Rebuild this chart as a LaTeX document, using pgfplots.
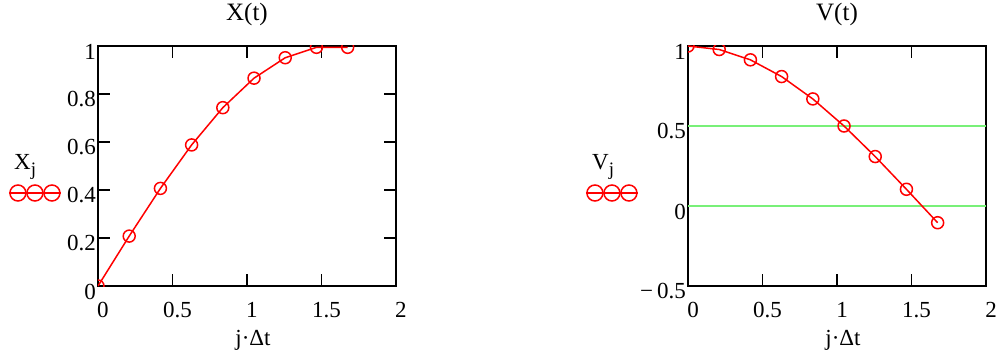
\documentclass[border=0pt]{standalone}
\usepackage{pgfplots}
\pgfplotsset{compat=1.18}
\usepackage{pgfplotstable}
\usepackage{fontspec}
\setmainfont{Liberation Serif}
\newfontfamily\mcfont{Liberation Serif}
\newcommand{\mcf}{\mcfont\fontsize{23}{27}\selectfont}
\newcommand{\mct}{\mcfont\fontsize{25}{30}\selectfont}
\definecolor{mcred}{RGB}{255,0,0}
\definecolor{mcgreen}{RGB}{120,240,120}

\pgfplotstableread{
t x v
0 0 1
0.2094 0.2079 0.9781
0.4189 0.4067 0.9135
0.6283 0.5878 0.8090
0.8378 0.7431 0.6691
1.0472 0.8660 0.5000
1.2566 0.9511 0.3090
1.4661 0.9945 0.1045
1.6755 0.9945 -0.1045
}\datatable

\newcommand{\legsym}{\tikz[baseline=-4pt]{\draw[mcred,line width=1.5pt] (0,0)--(52pt,0);
 \foreach \c in {9,26,43} {\draw[mcred,line width=1.5pt] (\c pt,0) circle (8pt);}}}

\begin{document}
\begin{tikzpicture}
\useasboundingbox (0,0) rectangle (997pt,362pt);
\pgfplotsset{
  mcstyle/.style={
    anchor=south west, scale only axis, width=298pt, height=240pt,
    xmin=0, xmax=2,
    xtick={0,0.5,1,1.5,2}, xticklabels={0,0.5,1,1.5,2},
    tick align=inside, xtick pos=both, ytick pos=both,
    major tick length=12pt,
    axis line style={line width=1.6pt, black},
    every tick/.style={line width=1.6pt, black},
    clip marker paths=true,
    /pgf/number format/assume math mode=true,
    every tick label/.append style={font=\mcf},
    xticklabel style={anchor=base, yshift=-31pt, xshift=5pt},
    yticklabel style={anchor=east, inner sep=0pt, xshift=-2pt, yshift=-5.5pt},
    title style={font=\mct, at={(0.5,1)}, anchor=base, yshift=19pt},
    xlabel style={font=\mcf, at={(0.5,0)}, anchor=base, yshift=-59pt, xshift=6pt},
    xlabel={j·Δt},
  },
  mcline/.style={mcred, line width=1.5pt, mark=o, mark size=6pt,
    mark options={line width=1.5pt, solid}},
}
\begin{axis}[mcstyle, at={(98pt,76pt)},
  ymin=0, ymax=1,
  ytick={0,0.2,0.4,0.6,0.8,1}, yticklabels={0,0.2,0.4,0.6,0.8,1},
  title={X(t)}]
\addplot[mcline] table[x=t, y=x] {\datatable};
\end{axis}
\begin{axis}[mcstyle, at={(688pt,76pt)},
  ymin=-0.5, ymax=1,
  ytick={-0.5,0,0.5,1}, yticklabels={−\,0.5,0,0.5,1},
  ytick style={draw=none},
  extra y ticks={0,0.5}, extra y tick labels={},
  extra y tick style={ymajorgrids=true, major grid style={mcgreen, line width=1.5pt}, ytick style={draw=none}},
  title={V(t)}]
\addplot[mcline] table[x=t, y=v] {\datatable};
\end{axis}
\node[anchor=base west, inner sep=0pt, font=\mcf] at (14pt,192pt) {X\raisebox{-6pt}{\fontsize{19}{19}\selectfont j}};
\node[anchor=west, inner sep=0pt] at (8pt,169pt) {\legsym};
\node[anchor=base west, inner sep=0pt, font=\mcf] at (592pt,192pt) {V\raisebox{-6pt}{\fontsize{19}{19}\selectfont j}};
\node[anchor=west, inner sep=0pt] at (585pt,169pt) {\legsym};
\end{tikzpicture}
\end{document}
